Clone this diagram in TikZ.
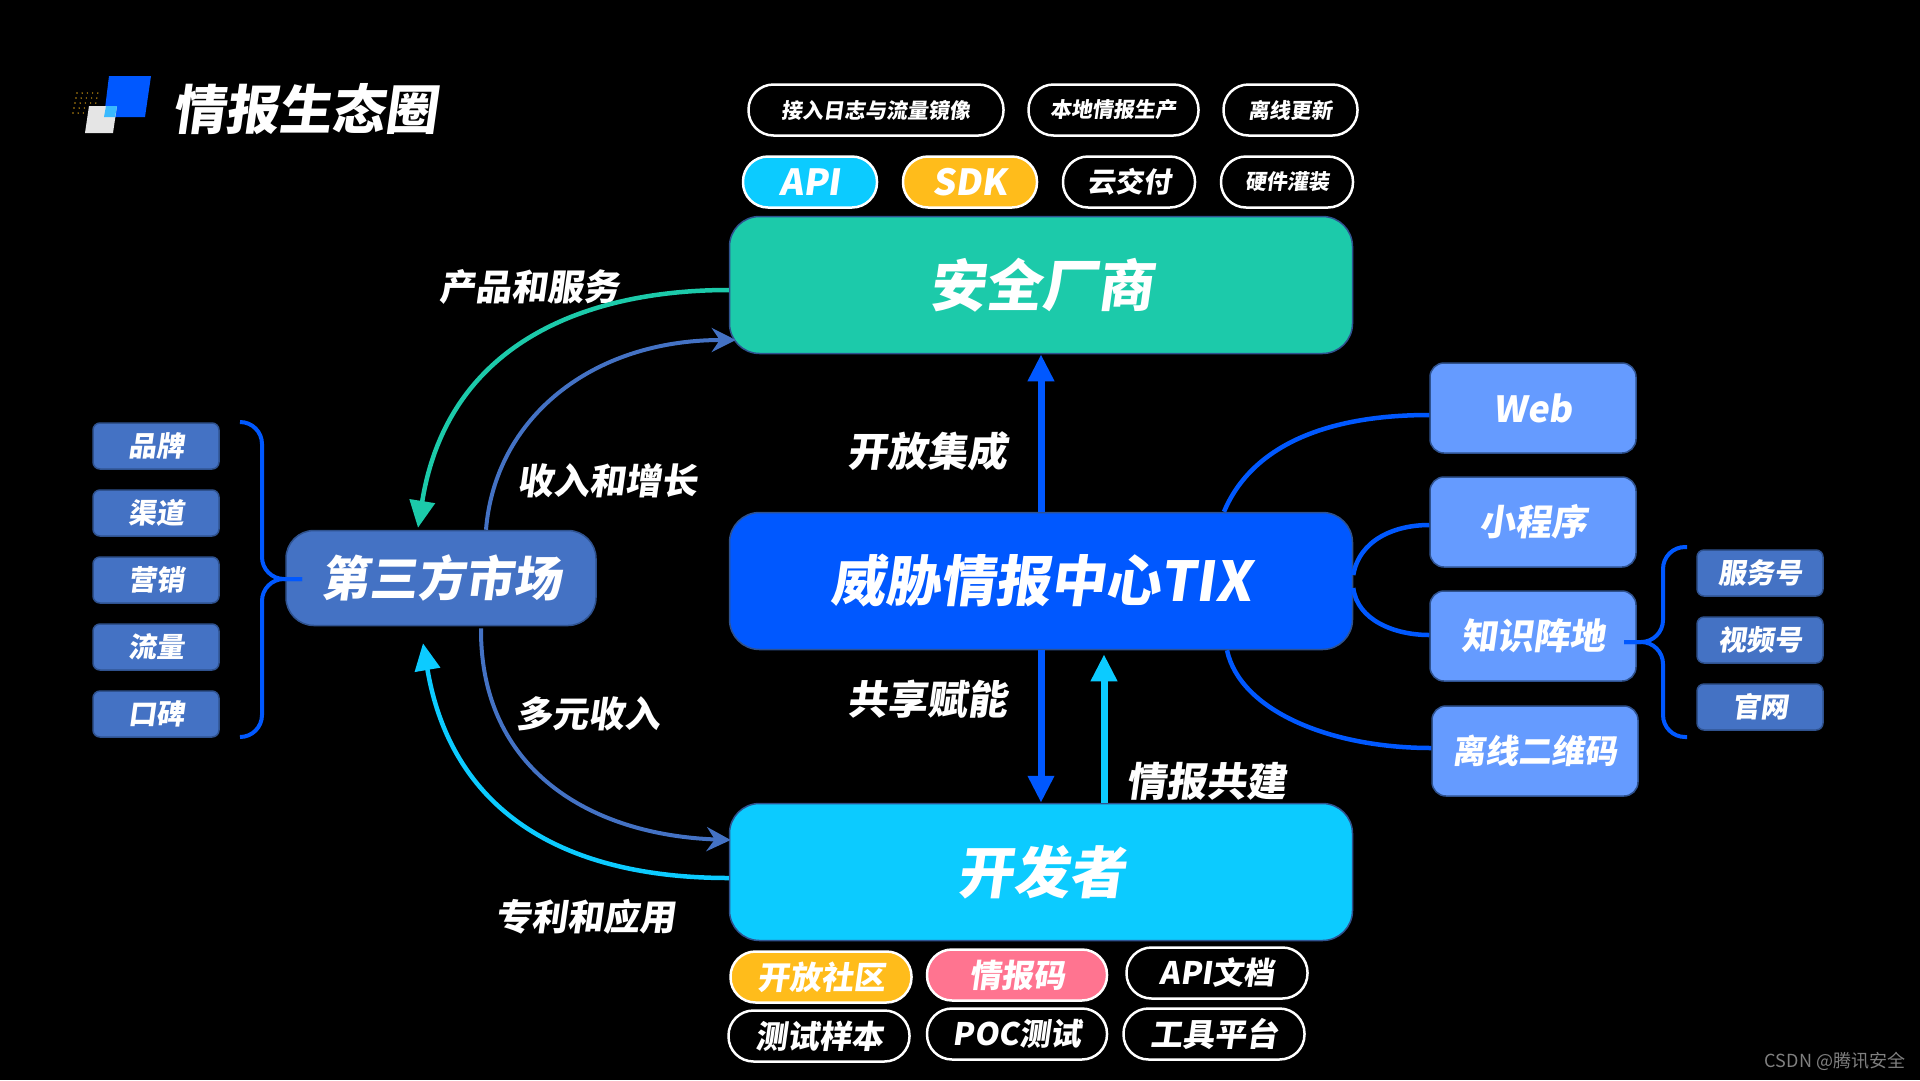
\documentclass[tikz,border=0pt]{standalone}
\usepackage{fontspec}
\usetikzlibrary{calc,chains,positioning,arrows.meta}
\newfontfamily\cjk[FakeSlant=0.14]{Noto Sans CJK SC}
\newfontfamily\plain{Noto Sans CJK SC}
\definecolor{vendor}{HTML}{1CCAAA}
\definecolor{hubblue}{HTML}{0058FF}
\definecolor{devcyan}{HTML}{0CCBFF}
\definecolor{market}{HTML}{4472C4}
\definecolor{edgeblue}{HTML}{2F528F}
\definecolor{channel}{HTML}{659BFF}
\definecolor{amber}{HTML}{FFBC1B}
\definecolor{rose}{HTML}{FF7490}
\begin{document}
\begin{tikzpicture}[x=1pt,y=-1pt,
    fs/.style={font=\cjk\bfseries\fontsize{#1}{#1}\selectfont},
    main/.style={draw=edgeblue, line width=1.5pt, text=white, rounded corners=30pt,
      minimum width=623pt, minimum height=137pt, inner sep=0pt},
    item/.style={draw=edgeblue, line width=1.5pt, fill=market, text=white, rounded corners=7pt,
      minimum width=126pt, minimum height=46pt, inner sep=0pt, fs=28},
    channelbox/.style={draw=edgeblue, line width=1.5pt, fill=channel, text=white, rounded corners=14pt,
      minimum width=206pt, minimum height=90pt, inner sep=0pt},
    pill/.style={draw=white, line width=2.5pt, text=white, rounded corners=25pt,
      minimum height=51pt, inner sep=0pt},
    label/.style={text=white, inner sep=0pt},
    curve/.style={line width=4.5pt},
    brace/.style={draw=hubblue, line width=4pt, rounded corners=22pt},
    >={Triangle[length=27pt,width=25pt]}]
  \fill[black] (0,0) rectangle (1920,1080);
  \useasboundingbox (0,0) rectangle (1920,1080);

  % logo
  \foreach \r in {0,...,4}
    \foreach \c in {0,...,4}
      \fill[amber!75!black] ({77+5.2*\c-\r},{93+5*\r}) circle (0.8);
  \fill[hubblue] (109,76) -- (151,76) -- (145,117) -- (104,117) -- cycle;
  \fill[black!10] (89,106) -- (117,106) -- (113,133) -- (85,133) -- cycle;
  \fill[devcyan!70!hubblue!80!white] (106,106) -- (117,106) -- (115,117) -- (104,117) -- cycle;
  \node[label,fs=53] (title) at (305,109) {情报生态圈};

  % main boxes
  \node[main,fill=vendor,fs=56] (top) at (1041,285) {安全厂商};
  \node[main,fill=hubblue,fs=55] (hub) at (1041,581) {威胁情报中心TIX};
  \node[main,fill=devcyan,fs=56] (dev) at (1041,872) {开发者};
  \node[draw=edgeblue,line width=1.5pt,fill=market,text=white,rounded corners=28pt,
    minimum width=310pt,minimum height=95pt,inner sep=0pt,fs=48] (mkt) at (441,578) {第三方市场};

  % pills above the vendor
  \begin{scope}[start chain=rowa going right, node distance=22.5pt]
    \node[pill,on chain,minimum width=255pt,fs=21] (a1) at (876,110) {接入日志与流量镜像};
    \node[pill,on chain,minimum width=170pt,fs=21] (a2) {本地情报生产};
    \node[pill,on chain,minimum width=134pt,fs=21] (a3) {离线更新};
  \end{scope}
  \begin{scope}[start chain=rowb going right, node distance=23.5pt]
    \node[pill,on chain,minimum width=134pt,fill=devcyan,fs=36] (b1) at (810,182) {API};
    \node[pill,on chain,minimum width=134pt,fill=amber,fs=36] (b2) {SDK};
    \node[pill,on chain,minimum width=132pt,fs=28] (b3) {云交付};
    \node[pill,on chain,minimum width=132pt,fs=21] (b4) {硬件灌装};
  \end{scope}

  % pills below the developer
  \node[pill,minimum width=181pt,fill=amber,fs=32] (c1) at (821,977) {开放社区};
  \node[pill,minimum width=180pt,fill=rose,fs=32] (c2) at (1017,975) {情报码};
  \node[pill,minimum width=181pt,fs=31] (c3) at (1217,973) {API文档};
  \node[pill,minimum width=181pt,fs=32] (d1) at (819,1036) {测试样本};
  \node[pill,minimum width=180pt,fs=31] (d2) at (1017,1034) {POC测试};
  \node[pill,minimum width=181pt,fs=32] (d3) at (1214,1034) {工具平台};

  % left list
  \begin{scope}[start chain=lefts going below, node distance=19.5pt]
    \node[item,on chain] (l1) at (156,446) {品牌};
    \node[item,on chain] (l2) {渠道};
    \node[item,on chain] (l3) {营销};
    \node[item,on chain] (l4) {流量};
    \node[item,on chain] (l5) {口碑};
  \end{scope}

  % right boxes
  \begin{scope}[start chain=rights going below, node distance=22.5pt]
    \node[channelbox,on chain,fs=36] (web) at (1533,408) {Web};
    \node[channelbox,on chain,fs=36] (mini) {小程序};
    \node[channelbox,on chain,fs=36] (know) {知识阵地};
  \end{scope}
  \node[channelbox,fs=33] (offl) at (1535,751) {离线二维码};
  \begin{scope}[start chain=fars going below, node distance=19.5pt]
    \node[item,on chain] (f1) at (1760,573) {服务号};
    \node[item,on chain] (f2) {视频号};
    \node[item,on chain] (f3) {官网};
  \end{scope}

  % flow labels
  \node[label,fs=36] (e1) at (529,287) {产品和服务};
  \node[label,fs=36] (e2) at (607,481) {收入和增长};
  \node[label,fs=36] (e3) at (588,714) {多元收入};
  \node[label,fs=36] (e4) at (585,917) {专利和应用};
  \node[label,fs=40] (e5) at (927,451) {开放集成};
  \node[label,fs=40] (e6) at (927,699) {共享赋能};
  \node[label,fs=40] (e7) at (1206,781) {情报共建};

  % curves round the market
  \draw[curve,vendor,->] ([yshift=-5pt]top.west)
    .. controls +(-140,0) and +(30,-187) .. ([shift={(-23pt,2pt)}]mkt.north);
  \draw[curve,market,line width=4pt,-{Stealth[length=24pt,width=24pt,inset=8pt]}] ([xshift=45pt]mkt.north)
    .. controls +(9,-111) and +(-145,0) .. ([shift={(7pt,-55pt)}]top.west);
  \draw[curve,market,line width=4pt,-{Stealth[length=24pt,width=24pt,inset=8pt]}] ([shift={(40pt,-2pt)}]mkt.south)
    .. controls +(-1,142) and +(-140,-5) .. ([shift={(2pt,32pt)}]dev.west);
  \draw[curve,devcyan,->] ([yshift=-6pt]dev.west)
    .. controls +(-170,0) and +(28,165) .. ([shift={(-18pt,-17pt)}]mkt.south);

  % centre arrows
  \draw[hubblue,line width=7pt,->] (hub.north) -- (top.south);
  \draw[hubblue,line width=7pt,->] (hub.south) -- (dev.north);
  \draw[devcyan,line width=7pt,->] ([xshift=63pt]dev.north) -- ([shift={(63pt,-4pt)}]hub.south);

  % channels
  \draw[curve,hubblue] ([xshift=183pt]hub.north)
    .. controls +(26,-62) and +(-110,0) .. ([yshift=-7pt]web.west);
  \draw[curve,hubblue] ([yshift=6pt]hub.east)
    .. controls +(6,-35) and +(-35,0) .. ([yshift=-3pt]mini.west);
  \draw[curve,hubblue] ([yshift=-7pt]hub.east)
    .. controls +(4,32) and +(-35,0) .. ([yshift=1pt]know.west);
  \draw[curve,hubblue] ([xshift=186pt]hub.south)
    .. controls +(13,60) and +(-102,0) .. ([yshift=3pt]offl.west);

  % braces
  \coordinate (lt) at (240,422);
  \coordinate (lb) at (240,737);
  \coordinate (lm) at (262,579);
  \coordinate (ls) at (302,579);
  \draw[brace] (lt) -| (lm) -- (ls);
  \draw[brace] (lb) -| (lm) -- (ls);
  \coordinate (rt) at (1687,547);
  \coordinate (rb) at (1687,737);
  \coordinate (rm) at (1663,642);
  \coordinate (rs) at (1624,642);
  \draw[brace] (rt) -| (rm) -- (rs);
  \draw[brace] (rb) -| (rm) -- (rs);

  \node[text=black!50,inner sep=0pt,font=\plain\fontsize{18}{18}\selectfont] (mark) at (1835,1061) {CSDN @腾讯安全};
\end{tikzpicture}
\end{document}
